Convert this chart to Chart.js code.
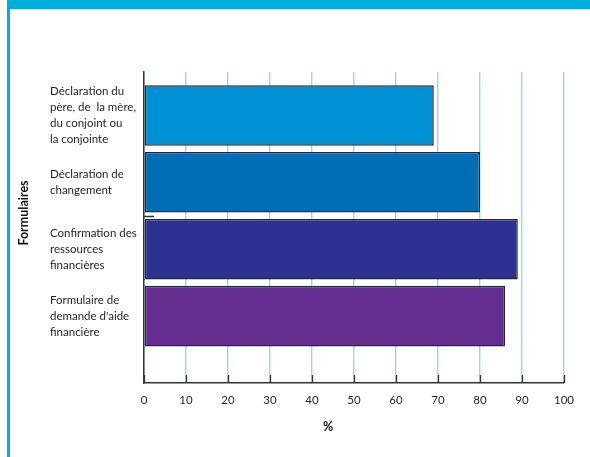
<!DOCTYPE html>
<html>
<head>
<meta charset="utf-8">
<script src="https://cdn.jsdelivr.net/npm/chart.js@4.4.1/dist/chart.umd.min.js"></script>
<style>
  body { margin: 0; background: #fff; }
  #wrap { position: relative; width: 590px; height: 457px; overflow: hidden; }
  #wrap canvas { position: absolute; left: 0; top: 0; }
  /* frame: thick band on top, thin rule on the left */
  #band { position: absolute; left: 7px; top: 0; width: 583px; height: 9px; background: #00aedb; }
  #rule { position: absolute; left: 7px; top: 0; width: 2.5px; height: 457px; background: #00aedb; }
</style>
</head>
<body>
<div id="wrap">
  <canvas id="chart" width="590" height="457"></canvas>
  <div id="band"></div>
  <div id="rule"></div>
</div>
<script>
// form names, one line per array entry
const categories = [
  ["Déclaration du", "père, de  la mère,", "du conjoint ou", "la conjointe"],
  ["Déclaration de", "changement"],
  ["Confirmation des", "ressources", "financières"],
  ["Formulaire de", "demande d'aide", "financière"]
];
const percents = [69, 80, 89, 86];
const barColors = ["#0090d4", "#006eb6", "#2e3192", "#662d90"];
const xTicks = [0, 10, 20, 30, 40, 50, 60, 70, 80, 90, 100];
const xTitle = "%";
const yTitle = "Formulaires";

const FONT = "Lato";
const TEXT = "#1f1f1f";

// titles sit off-centre, so draw them by hand
const axisTitles = {
  id: "axisTitles",
  afterDraw(chart) {
    const ctx = chart.ctx;
    ctx.save();
    ctx.fillStyle = "#111";
    ctx.font = "bold 12.5px " + FONT;
    ctx.textAlign = "center";
    ctx.textBaseline = "middle";
    ctx.fillText(xTitle, 328, 427);
    ctx.translate(24, 213);
    ctx.rotate(-Math.PI / 2);
    ctx.fillText(yTitle, 0, 0);
    ctx.restore();
  }
};

// short dark ticks pointing up from the x axis, plus the stray mark on the y axis
const innerTicks = {
  id: "innerTicks",
  afterDraw(chart) {
    const ctx = chart.ctx;
    const area = chart.chartArea;
    const x = chart.scales.x, y = chart.scales.y;
    ctx.save();
    ctx.strokeStyle = "#333";
    ctx.lineWidth = 1.3;
    ctx.beginPath();
    for (const t of xTicks) {
      const px = Math.round(x.getPixelForValue(t)) + 0.5;
      ctx.moveTo(px, area.bottom - 8);
      ctx.lineTo(px, area.bottom);
    }
    const py = Math.round(y.getPixelForValue(1.5)) + 0.5;
    ctx.moveTo(area.left, py);
    ctx.lineTo(area.left + 10, py);
    ctx.stroke();
    ctx.restore();
  }
};

new Chart(document.getElementById("chart"), {
  type: "bar",
  data: {
    datasets: [{
      data: percents.map((v, i) => ({ x: v, y: i })),
      backgroundColor: barColors,
      borderColor: "#1f2b3d",
      borderWidth: 1.5,
      borderSkipped: false,
      categoryPercentage: 1,
      barPercentage: 0.905
    }]
  },
  options: {
    indexAxis: "y",
    responsive: false,
    animation: false,
    layout: { padding: { left: 50, top: 72, right: 26, bottom: 0 } },
    plugins: { legend: { display: false }, tooltip: { enabled: false } },
    scales: {
      x: {
        type: "linear",
        min: 0,
        max: 100,
        afterBuildTicks: s => { s.ticks = xTicks.map(v => ({ value: v })); },
        afterFit: s => { s.height = 74; },
        grid: { color: "#92daf2", lineWidth: 1.4, drawTicks: false },
        border: { color: "#333", width: 1.5 },
        ticks: { padding: 10, color: TEXT, font: { family: FONT, size: 11.5 } }
      },
      y: {
        type: "linear",
        reverse: true,
        offset: false,
        min: -0.65,
        max: 4.0,
        afterBuildTicks: s => { s.ticks = categories.map((c, i) => ({ value: i })); },
        afterFit: s => { s.width = 94; },
        grid: { drawOnChartArea: false, drawTicks: false },
        border: { color: "#333", width: 1.5 },
        ticks: {
          crossAlign: "far",
          color: TEXT,
          font: { family: FONT, size: 11.5, lineHeight: 1.38 },
          callback: v => categories[v]
        }
      }
    }
  },
  plugins: [axisTitles, innerTicks]
});
</script>
</body>
</html>
